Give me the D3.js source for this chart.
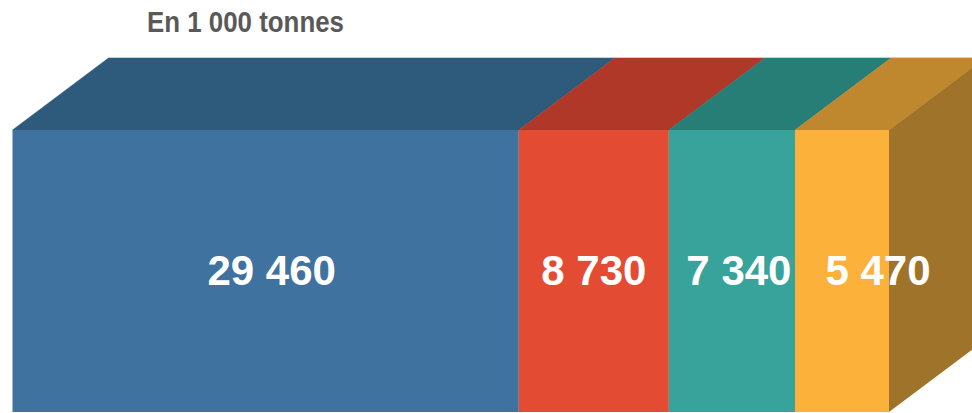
<!DOCTYPE html>
<html>
<head>
<meta charset="utf-8">
<script src="https://cdn.jsdelivr.net/npm/d3@7"></script>
<style>
  body { margin: 0; background: #fff; }
  svg { display: block; }
</style>
</head>
<body>
<div id="chart"></div>
<script>
// values, in 1 000 tonnes
const values = [29460, 8730, 7340, 5470]
const labels = ["29 460", "8 730", "7 340", "5 470"]
const frontColors = ["#4072a0", "#e44b33", "#37a39a", "#fbb13a"]
const topColors = ["#2e5a7b", "#af3828", "#267e76", "#bf872e"]
const sideColor = "#a0732a"
const title = "En 1 000 tonnes"

const width = 972, height = 413
const left = 12.5, right = 889
const front_top = 130, front_bottom = 412
const depth_x = 96, depth_y = 72
// small horizontal nudges of the labels, as in the original
const label_shift = [6, 0, 7, 36]

const svg = d3.select("#chart").append("svg")
  .attr("width", width)
  .attr("height", height)

const total = d3.sum(values)
const x = d3.scaleLinear().domain([0, total]).range([left, right])

let acc = 0
const segs = values.map((v, i) => {
  const s = { i: i, v: v, x0: x(acc), x1: x(acc + v) }
  acc += v
  return s
})

// Top faces
svg.append("g").selectAll("polygon")
  .data(segs)
  .join("polygon")
  .attr("points", d => [
    [d.x0, front_top], [d.x1, front_top],
    [d.x1 + depth_x, front_top - depth_y], [d.x0 + depth_x, front_top - depth_y]
  ].join(" "))
  .attr("fill", d => topColors[d.i])
  .attr("stroke", d => topColors[d.i])
  .attr("stroke-width", 0.5)

// thin edge on top
svg.append("line")
  .attr("x1", left + depth_x).attr("x2", right + depth_x)
  .attr("y1", front_top - depth_y - 0.5).attr("y2", front_top - depth_y - 0.5)
  .attr("stroke", "#c9cfd4")
  .attr("stroke-width", 1)

// Side face (last segment)
svg.append("polygon")
  .attr("points", [
    [right, front_top], [right + depth_x, front_top - depth_y],
    [right + depth_x, front_bottom - depth_y], [right, front_bottom]
  ].join(" "))
  .attr("fill", sideColor)

// Front faces
svg.append("g").selectAll("rect")
  .data(segs)
  .join("rect")
  .attr("x", d => d.x0)
  .attr("y", front_top)
  .attr("width", d => d.x1 - d.x0)
  .attr("height", front_bottom - front_top)
  .attr("fill", d => frontColors[d.i])

// Value labels
svg.append("g").selectAll("text")
  .data(segs)
  .join("text")
  .attr("x", d => (d.x0 + d.x1) / 2 + label_shift[d.i])
  .attr("y", 285)
  .attr("text-anchor", "middle")
  .attr("font-family", "'Liberation Sans', Arial, sans-serif")
  .attr("font-weight", "bold")
  .attr("font-size", 42)
  .attr("fill", "#ffffff")
  .text(d => labels[d.i])

// Title (narrow face in the original, squeezed here)
svg.append("text")
  .attr("x", 147)
  .attr("y", 32)
  .attr("font-family", "'Liberation Sans', Arial, sans-serif")
  .attr("font-weight", "bold")
  .attr("font-size", 30)
  .attr("textLength", 197)
  .attr("lengthAdjust", "spacingAndGlyphs")
  .attr("fill", "#595959")
  .text(title)
</script>
</body>
</html>
